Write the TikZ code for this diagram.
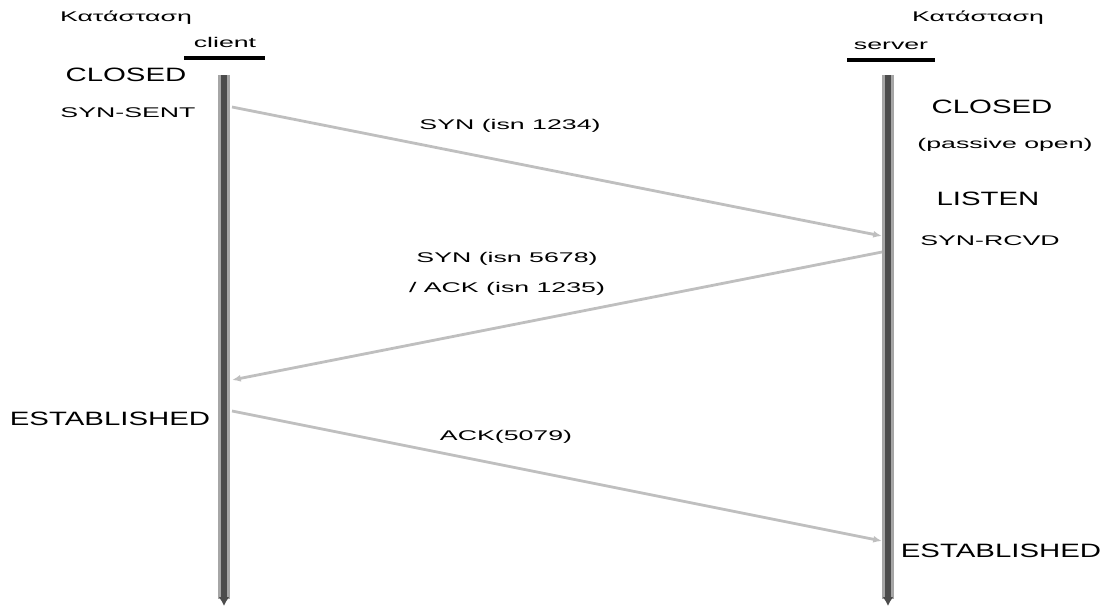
\documentclass[tikz,border=0pt]{standalone}
\usepackage{fontspec}
\setmainfont{Liberation Sans}
\newfontfamily\widefont[FakeStretch=1.52]{Liberation Sans}
\newfontfamily\widerfont[FakeStretch=1.9]{Liberation Sans}
\usepackage{tikz}
\usetikzlibrary{arrows.meta}

\begin{document}
\begin{tikzpicture}[x=0.02cm, y=-0.02cm, every node/.style={align=center, inner sep=1pt},
  state/.style={font=\widefont\fontsize{11}{13}\selectfont},
  small/.style={font=\widerfont\fontsize{8}{10}\selectfont},
  msglabel/.style={font=\widerfont\fontsize{8}{17}\selectfont},
  lifeline/.style={-{Latex[length=5pt, width=6pt]}, line width=3pt, black!70, preaction={draw, -, line width=6.5pt, black!35, shorten >=4pt}},
  msg/.style={-{Latex[length=5pt, width=4pt]}, line width=1.6pt, black!25}]

\useasboundingbox (0,0) rectangle (1105,610);

% Headers
\node (chead) [small] at (126,18) {Κατάσταση};
\node (shead) [small] at (978,18) {Κατάσταση};
\node (client) [small] at (225,42) {client};
\node (server) [small] at (891,46) {server};
\draw[line width=2pt] (184,58) -- (265,58);
\draw[line width=2pt] (847,60) -- (935,60);

% Lifelines
\coordinate (ctop) at (224,75);
\coordinate (cbot) at (224,606);
\coordinate (stop) at (888,75);
\coordinate (sbot) at (888,606);
\draw[lifeline] (ctop) -- (cbot);
\draw[lifeline] (stop) -- (sbot);

% States (client)
\node (cclosed) [state] at (126,75) {CLOSED};
\node (csent) [small] at (128,113) {SYN-SENT};
\node (cest) [state] at (110,419) {ESTABLISHED};

% States (server)
\node (sclosed) [state] at (992,107) {CLOSED};
\node (spassive) [small] at (1005,145) {(passive open)};
\node (slisten) [state] at (988,199) {LISTEN};
\node (srcvd) [small] at (990,241) {SYN-RCVD};
\node (sest) [state] at (1001,551) {ESTABLISHED};

% Message end points
\coordinate (m1a) at (232,107);
\coordinate (m1b) at (882,236);
\coordinate (m2a) at (882,252);
\coordinate (m2b) at (232,380);
\coordinate (m3a) at (232,411);
\coordinate (m3b) at (882,541);

% Arrows
\draw[msg] (m1a) -- (m1b);
\draw[msg] (m2a) -- (m2b);
\draw[msg] (m3a) -- (m3b);

% Message labels
\node (syn1) [small] at (510,126) {SYN (isn 1234)};
\node (syn2) [msglabel] at (507,274) {SYN (isn 5678)\\/ ACK (isn 1235)};
\node (ack) [small] at (506,437) {ACK(5079)};

\end{tikzpicture}
\end{document}
